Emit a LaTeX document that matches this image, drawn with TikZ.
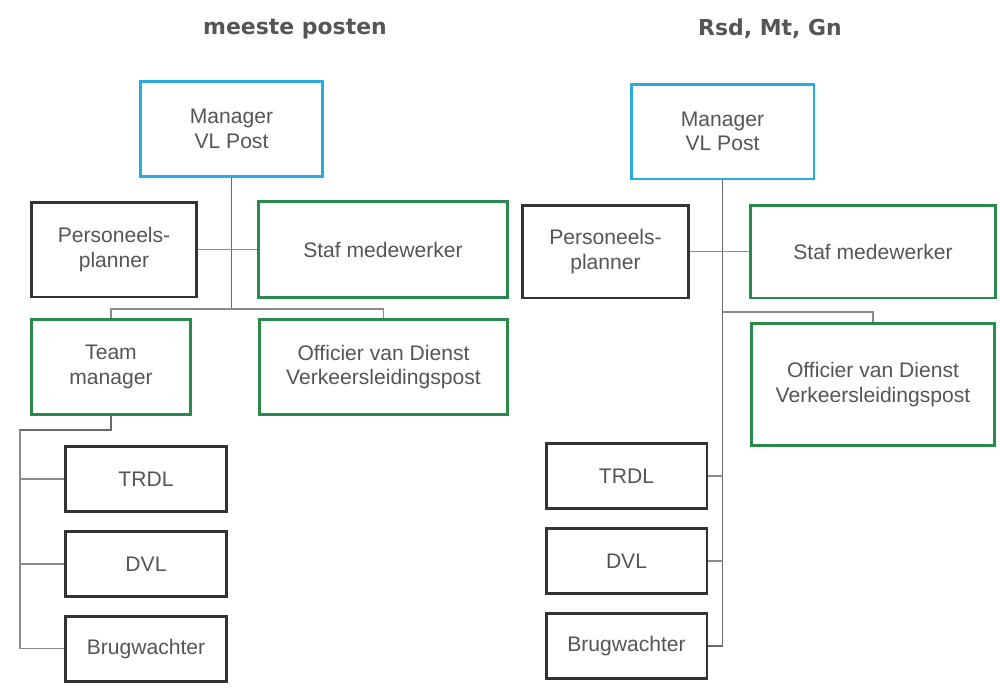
\documentclass[tikz,border=0pt]{standalone}
\usepackage{fontspec}
\setmainfont{Liberation Sans}
\newfontfamily\titlefont{DejaVu Sans}
\usetikzlibrary{positioning}
\definecolor{mgrblue}{HTML}{29ABE2}
\definecolor{boxgreen}{HTML}{2A8A4C}
\definecolor{boxdark}{HTML}{333333}
\definecolor{textgray}{HTML}{555555}
\definecolor{linegray}{HTML}{8C8C8C}
\definecolor{trunkgray}{HTML}{6A6A6A}

\begin{document}
\begin{tikzpicture}[x=0.02cm, y=-0.02cm,
    box/.style={rectangle, draw, line width=1.7pt, align=center, text=textgray, inner sep=2pt, font=\fontsize{12}{14}\selectfont},
    mgr/.style={box, draw=mgrblue, minimum width=3.66cm, minimum height=1.9cm},
    grn/.style={box, draw=boxgreen},
    drk/.style={box, draw=boxdark},
    small/.style={drk, minimum width=3.22cm, minimum height=1.3cm},
    title/.style={text=textgray, font=\titlefont\bfseries\fontsize{12.5}{15}\selectfont},
    link/.style={draw=linegray, line width=0.6pt},
    trunk/.style={draw=trunkgray, line width=1.1pt},
    node distance=0.34cm]
    \useasboundingbox (0,0) rectangle (1000,697);

    % left: meeste posten
    \node[title] (ttlL) at (295,29) {meeste posten};
    \node[mgr] (mgrL) at (231.5,129) {Manager\\VL Post};
    \node[drk, minimum width=3.3cm, minimum height=1.9cm] (ppL) at (114,249.5) {Personeels-\\planner};
    \node[grn, minimum width=4.98cm, minimum height=1.92cm] (stafL) at (383,249.5) {Staf medewerker};
    \node[grn, minimum width=3.18cm, minimum height=1.9cm] (tmL) at (111,367) {Team\\manager};
    \node[grn, minimum width=4.96cm, minimum height=1.9cm] (ovdL) at (383.5,367) {Officier van Dienst\\Verkeersleidingspost};
    \node[small] (trdlL) at (146,479) {TRDL};
    \node[small, below=of trdlL] (dvlL) {DVL};
    \node[small, below=of dvlL] (brugL) {Brugwachter};

    \coordinate (jL) at (231.5,309);
    \coordinate (spineL) at (20,430);
    \draw[trunk] (mgrL.south) -- (jL);
    \draw[link] (ppL) -- (stafL);
    \draw[link] (tmL.north) |- (jL) -| (ovdL.north);
    \draw[trunk] (tmL.south) |- (spineL) -- (spineL |- trdlL.west);
    \draw[link] (spineL) |- (brugL.west);
    \draw[link] (spineL |- trdlL.west) -- (trdlL.west);
    \draw[link] (spineL |- dvlL.west) -- (dvlL.west);

    % right: Rsd, Mt, Gn
    \node[title] (ttlR) at (770,29) {Rsd, Mt, Gn};
    \node[mgr] (mgrR) at (722.5,131.5) {Manager\\VL Post};
    \node[drk, minimum width=3.32cm, minimum height=1.86cm] (ppR) at (605.5,251.5) {Personeels-\\planner};
    \node[grn, minimum width=4.9cm, minimum height=1.86cm] (stafR) at (873,251.5) {Staf medewerker};
    \node[grn, minimum width=4.88cm, minimum height=2.44cm] (ovdR) at (873,384.5) {Officier van Dienst\\Verkeersleidingspost};
    \node[small] (trdlR) at (626.5,476) {TRDL};
    \node[small, below=of trdlR] (dvlR) {DVL};
    \node[small, below=of dvlR] (brugR) {Brugwachter};

    \coordinate (jR) at (722.5,312);
    \draw[trunk] (mgrR.south) |- (brugR.east);
    \draw[link] (ppR) -- (stafR);
    \draw[link] (jR) -| (ovdR.north);
    \draw[link] (trdlR.east) -- (trdlR.east -| mgrR.south);
    \draw[link] (dvlR.east) -- (dvlR.east -| mgrR.south);
\end{tikzpicture}
\end{document}
